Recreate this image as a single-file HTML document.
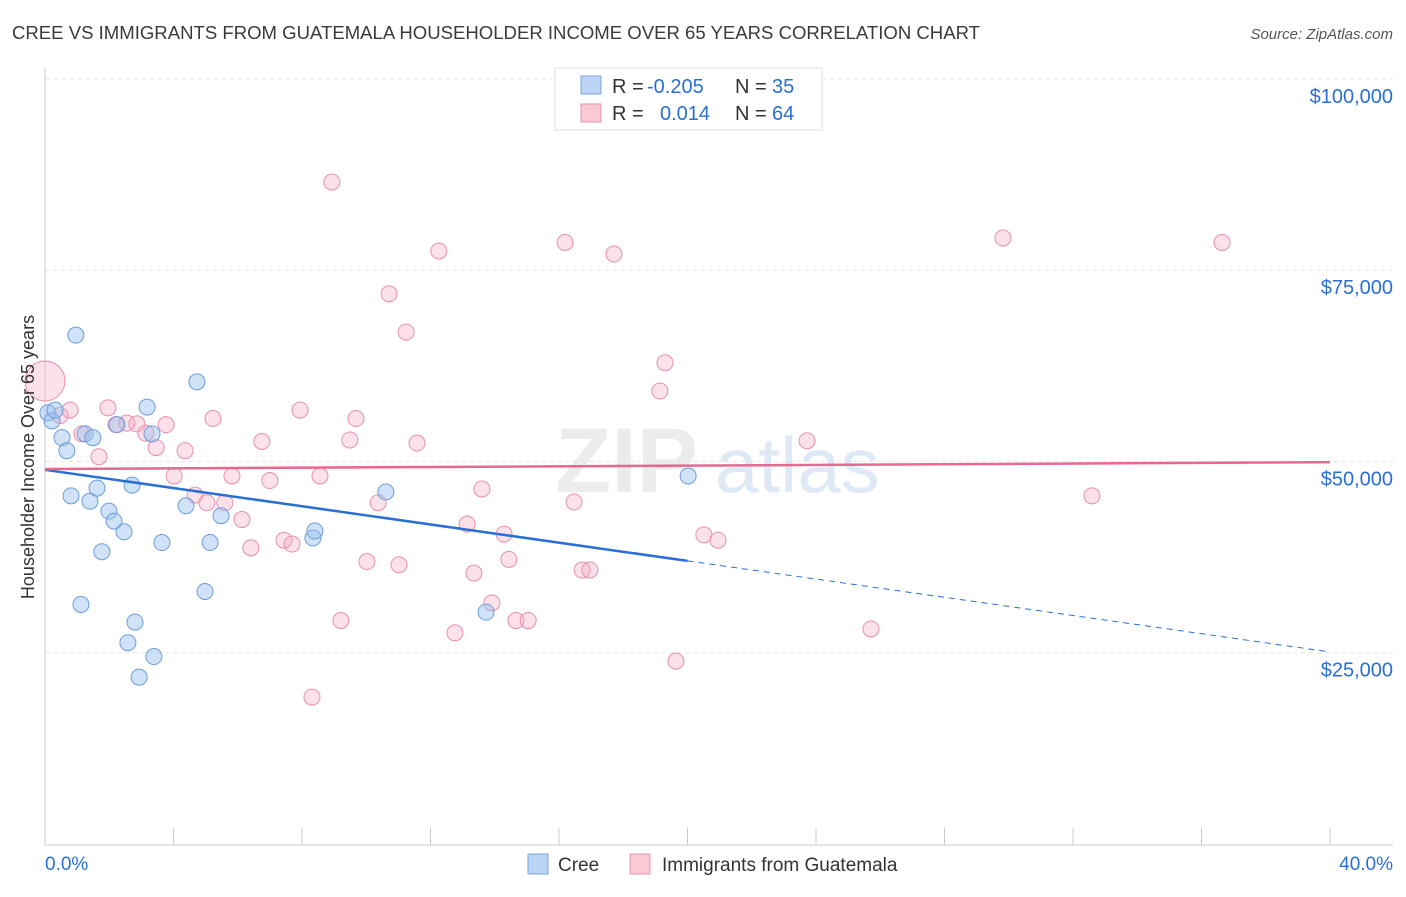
<!DOCTYPE html>
<html><head><meta charset="utf-8">
<style>
body{margin:0;background:#fff;font-family:"Liberation Sans",sans-serif;}
svg text{font-family:"Liberation Sans",sans-serif;}
</style></head>
<body>
<svg id="chart" width="1406" height="892" xmlns="http://www.w3.org/2000/svg">
<text x="12" y="39" font-size="18" fill="#3a3a3a" textLength="968" lengthAdjust="spacingAndGlyphs">CREE VS IMMIGRANTS FROM GUATEMALA HOUSEHOLDER INCOME OVER 65 YEARS CORRELATION CHART</text>
<text x="1393" y="39" font-size="15" fill="#555" font-style="italic" text-anchor="end">Source: ZipAtlas.com</text>
<g>
<text x="555" y="492" font-size="92" fill="#ececec" font-family="Liberation Serif" font-weight="bold">ZIP</text>
<text x="715" y="492" font-size="78" fill="#dfe9f6">atlas</text>
</g>
<g id="grid"></g>
<g id="axes"></g>
<g id="marks"></g>
<g>
<rect x="555" y="68" width="267" height="62" fill="#fff" stroke="#ddd"/>
<rect x="581" y="76" width="20" height="18" fill="#bcd4f5" stroke="#7aa7e0"/>
<text x="612" y="93" font-size="20" fill="#333">R = </text><text x="647" y="93" font-size="20" fill="#2a6fd6">-0.205</text>
<text x="735" y="93" font-size="20" fill="#333">N = </text><text x="772" y="93" font-size="20" fill="#2a6fd6">35</text>
<rect x="581" y="104" width="20" height="18" fill="#f9c9d6" stroke="#e890ab"/>
<text x="612" y="120" font-size="20" fill="#333">R = </text><text x="660" y="120" font-size="20" fill="#2a6fd6">0.014</text>
<text x="735" y="120" font-size="20" fill="#333">N = </text><text x="772" y="120" font-size="20" fill="#2a6fd6">64</text>
</g>
<g>
<rect x="528" y="854" width="20" height="20" fill="#bcd4f5" stroke="#7aa7e0"/>
<text x="558" y="871" font-size="19" fill="#333">Cree</text>
<rect x="630" y="854" width="20" height="20" fill="#f9c9d6" stroke="#e890ab"/>
<text x="662" y="871" font-size="19" fill="#333">Immigrants from Guatemala</text>
</g>
<text transform="translate(34,457) rotate(-90)" font-size="18" fill="#333" text-anchor="middle">Householder Income Over 65 years</text>
</svg>
<script>
const yTicks=[25000,50000,75000,100000];
const yTickLabels=["$25,000","$50,000","$75,000","$100,000"];
const xTicks=[0,4,8,12,16,20,24,28,32,36,40];
const creeX=[0.09,0.22,0.31,0.53,0.68,0.96,0.81,1.25,1.40,1.49,1.62,1.77,1.12,1.99,2.15,2.24,2.46,2.71,2.80,2.58,2.93,3.18,3.33,3.39,3.64,4.39,4.73,4.98,5.14,5.48,8.34,8.40,10.61,13.73,20.02];
const creeY=[56.35,55.3,56.7,53.1,51.4,66.5,45.5,53.6,44.8,53.1,46.5,38.2,31.3,43.5,42.2,54.8,40.8,46.9,29.0,26.3,21.8,57.1,53.6,24.5,39.4,44.2,60.4,33.0,39.4,42.9,40.0,40.9,46.0,30.3,48.1];
const guaX=[0,0.47,0.78,1.15,1.68,1.96,2.21,2.55,2.86,3.14,3.46,3.77,4.02,4.36,4.67,5.04,5.23,5.60,5.82,6.13,6.41,6.75,7.00,7.44,7.69,7.94,8.56,8.93,9.21,9.49,9.68,10.02,10.37,10.71,11.02,11.24,11.58,12.26,12.76,13.14,13.35,13.60,13.91,14.29,14.44,14.66,15.04,16.19,16.47,16.72,16.96,17.71,19.14,19.30,19.64,20.51,20.95,23.72,25.71,29.82,32.59,36.64,8.31];
const guaY=[60.5,56.0,56.7,53.6,50.6,57.0,54.8,55.0,54.9,53.7,51.8,54.8,48.1,51.4,45.6,44.6,55.6,44.6,48.1,42.4,38.7,52.6,47.5,39.7,39.2,56.7,48.1,86.5,29.2,52.8,55.6,36.9,44.6,71.9,36.5,66.9,52.4,77.5,27.6,41.8,35.4,46.4,31.5,40.5,37.2,29.2,29.2,78.6,44.7,35.8,35.8,77.1,59.2,62.9,23.9,40.4,39.7,52.7,28.1,79.2,45.5,78.6,19.2];
const creeTrend=[48.9,25.1];
const guaTrend=[49.0,49.9];

const NS="http://www.w3.org/2000/svg";
const X=v=>45+v/40*1285;
const Y=v=>844-v/100000*765.2;
const Yk=v=>Y(v*1000);
function mk(tag,attrs,parent){const e=document.createElementNS(NS,tag);for(const k in attrs)e.setAttribute(k,attrs[k]);document.getElementById(parent).appendChild(e);return e;}
yTicks.forEach((t,i)=>{
  const g=mk('line',{x1:45,x2:1393,y1:Y(t),y2:Y(t),stroke:'#e2e2e2','stroke-dasharray':'4,4'},'grid');
  
  
  const l=mk('text',{x:1393,y:Y(t)+24,'font-size':20,fill:'#2a6fd6','text-anchor':'end'},'axes');
  l.textContent=yTickLabels[i];
  
  
});
const a1=mk('line',{x1:45,x2:45,y1:68,y2:845,stroke:'#ccc'},'axes');


const a2=mk('line',{x1:45,x2:1393,y1:845,y2:845,stroke:'#ccc'},'axes');


xTicks.forEach(t=>{
  const tk=mk('line',{x1:X(t),x2:X(t),y1:828,y2:845,stroke:'#ccc'},'axes');
  
  
});
const xl0=mk('text',{x:45,y:870,'font-size':19,fill:'#2a6fd6'},'axes');xl0.textContent='0.0%';


const xl1=mk('text',{x:1393,y:870,'font-size':19,fill:'#2a6fd6','text-anchor':'end'},'axes');xl1.textContent='40.0%';



guaX.forEach((x,i)=>{
  const c=mk('circle',{cx:X(x),cy:Yk(guaY[i]),r:i===0?20:8,fill:'rgba(245,170,195,0.35)',stroke:'#e890ab','stroke-width':1},'marks');
  
  
});
creeX.forEach((x,i)=>{
  const c=mk('circle',{cx:X(x),cy:Yk(creeY[i]),r:8,fill:'rgba(150,190,240,0.45)',stroke:'#6d9ddc','stroke-width':1},'marks');
  
  
});
const cAt=x=>creeTrend[0]+(creeTrend[1]-creeTrend[0])*x/40;
const t1=mk('line',{x1:X(0),y1:Yk(cAt(0)),x2:X(20),y2:Yk(cAt(20)),stroke:'#2a6fd6','stroke-width':2.5},'marks');


const t2=mk('line',{x1:X(20),y1:Yk(cAt(20)),x2:X(40),y2:Yk(cAt(40)),stroke:'#2a6fd6','stroke-width':1,'stroke-dasharray':'6,5'},'marks');


const t3=mk('line',{x1:X(0),y1:Yk(guaTrend[0]),x2:X(40),y2:Yk(guaTrend[1]),stroke:'#e8688f','stroke-width':2.5},'marks');


</script>
</body></html>
